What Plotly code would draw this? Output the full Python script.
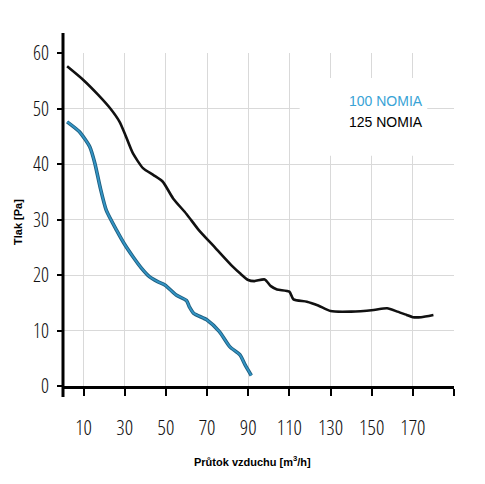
import plotly.graph_objects as go

# Data
x_125 = [2, 10, 17, 23, 27.5, 30, 34, 39, 44, 48.5, 53.5, 60, 66, 74, 82.5, 86, 90, 93, 98, 101, 104, 110, 112, 118.5, 124, 130, 140, 151, 157.5, 162.5, 167, 170, 174, 180]
y_125 = [57.6, 55.1, 52.5, 50.0, 47.6, 45.5, 41.9, 39.2, 38.0, 36.8, 33.8, 31.0, 28.1, 24.9, 21.5, 20.3, 19.1, 18.9, 19.2, 18.0, 17.4, 17.0, 15.6, 15.2, 14.5, 13.5, 13.4, 13.7, 14.0, 13.4, 12.8, 12.4, 12.4, 12.8]

x_100 = [2, 8, 13, 15.5, 18, 21, 26, 30, 34, 38, 42, 46, 49.5, 55, 60, 61.5, 63.5, 70, 76, 81, 86, 88.5, 91.5]
y_100 = [47.6, 45.8, 43.1, 40.1, 35.9, 31.7, 28.1, 25.5, 23.3, 21.3, 19.7, 18.8, 18.2, 16.4, 15.4, 14.2, 13.1, 11.9, 9.8, 7.1, 5.6, 3.8, 1.9]

x_tickvals = [10, 30, 50, 70, 90, 110, 130, 150, 170, 190]
x_ticktext = ["10", "30", "50", "70", "90", "110", "130", "150", "170", ""]
y_tickvals = [0, 10, 20, 30, 40, 50, 60]

series_names = ["100 NOMIA", "125 NOMIA"]
x_title = "Průtok vzduchu [m<sup>3</sup>/h]"
y_title = "Tlak [Pa]"

NARROW = "Open Sans Condensed Light, DejaVu Sans Condensed, sans-serif"

fig = go.Figure()
fig.add_trace(go.Scatter(x=x_125, y=y_125, mode="lines", name=series_names[1],
                         line=dict(color="#111111", width=2.6, shape="spline", smoothing=0.6)))
fig.add_trace(go.Scatter(x=x_100, y=y_100, mode="lines", name=series_names[0],
                         line=dict(color="#1f5f80", width=3.6, shape="spline", smoothing=0.6)))
fig.add_trace(go.Scatter(x=x_100, y=y_100, mode="lines", name=series_names[0],
                         line=dict(color="#3394c4", width=1.8, shape="spline", smoothing=0.6)))

L, R, T, B = 55, 39, 45, 106
PW = 485 - L - R
PH = 484 - T - B
def px(x):
    return (x - 8 - L) / PW
def py(y):
    return (484 - B - (y - 8)) / PH

fig.update_layout(
    width=485, height=484,
    margin=dict(l=L, r=R, t=T, b=B),
    paper_bgcolor="white", plot_bgcolor="white",
    showlegend=False,
    xaxis=dict(range=[0, 190], tickvals=x_tickvals, ticktext=x_ticktext,
               showgrid=True, gridcolor="#d9d9d9", gridwidth=1,
               showline=True, linecolor="black", linewidth=3,
               ticks="outside", ticklen=7, tickwidth=2, tickcolor="black",
               tickfont=dict(family=NARROW, size=21, color="#111"),
               ticklabelstandoff=14, zeroline=False, fixedrange=True, automargin=False),
    yaxis=dict(range=[0, 60], tickvals=y_tickvals,
               showgrid=True, gridcolor="#d9d9d9", gridwidth=1,
               showline=False,
               ticks="outside", ticklen=5, tickwidth=2, tickcolor="black",
               tickfont=dict(family=NARROW, size=20, color="#111"),
               ticklabelstandoff=4, zeroline=False, fixedrange=True, automargin=False),
    shapes=[
        dict(type="rect", xref="x", yref="y", x0=115, x1=177, y0=41.5, y1=55.5,
             fillcolor="white", line=dict(width=0), layer="between"),
        dict(type="line", xref="paper", yref="paper", x0=0, x1=0, y0=-0.033, y1=1.06,
             line=dict(color="black", width=3)),
    ],
    annotations=[
        dict(text=series_names[0], xref="paper", yref="paper", x=px(425), y=py(101),
             xanchor="right", yanchor="middle", showarrow=False,
             font=dict(family="Liberation Sans, Arial, sans-serif", size=14, color="#39a3d6")),
        dict(text=series_names[1], xref="paper", yref="paper", x=px(425), y=py(122),
             xanchor="right", yanchor="middle", showarrow=False,
             font=dict(family="Liberation Sans, Arial, sans-serif", size=14, color="#000000")),
        dict(text="<b>" + x_title + "</b>", xref="paper", yref="paper", x=px(252), y=py(461),
             xanchor="center", yanchor="middle", showarrow=False,
             font=dict(family="Liberation Sans, Arial, sans-serif", size=11, color="#000000")),
        dict(text="<b>" + y_title + "</b>", xref="paper", yref="paper", x=px(18), y=py(222),
             xanchor="center", yanchor="middle", showarrow=False, textangle=-90,
             font=dict(family="Liberation Sans, Arial, sans-serif", size=11, color="#000000")),
    ],
)

fig.write_html("out.html")
